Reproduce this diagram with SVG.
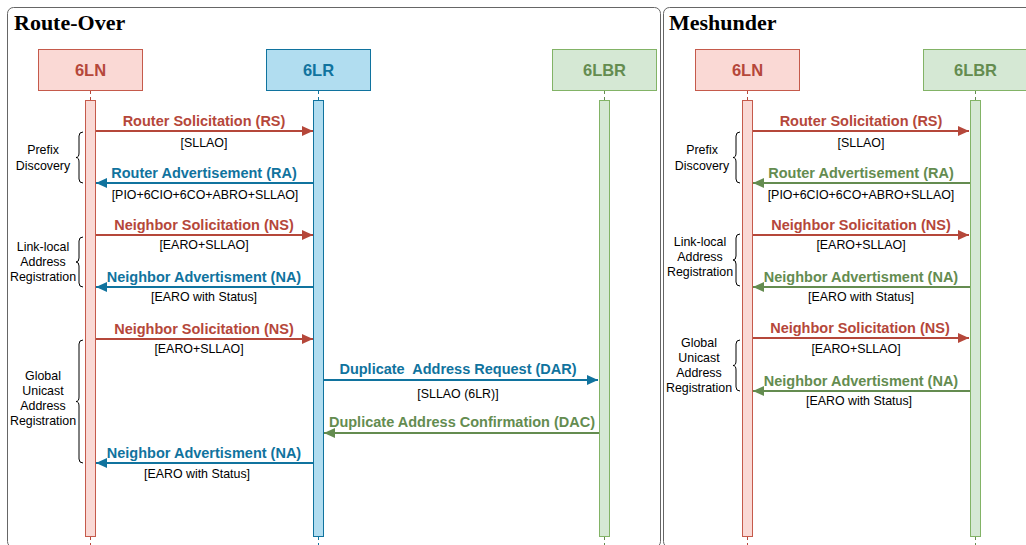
<svg xmlns="http://www.w3.org/2000/svg" width="1026" height="545" viewBox="0 0 1026 545">
<style>
.panel{fill:#fff;stroke:#666;stroke-width:1}
.title{font-family:"Liberation Serif",serif;font-weight:bold;font-size:22px;fill:#000}
.lbl{font-family:"Liberation Sans",Arial,sans-serif;font-weight:bold;font-size:16.5px;text-anchor:middle}
.msg{font-family:"Liberation Sans",Arial,sans-serif;font-weight:bold;font-size:14.5px;text-anchor:middle}
.sub{font-family:"Liberation Sans",Arial,sans-serif;font-size:12.4px;text-anchor:middle;fill:#000}
.note{font-family:"Liberation Sans",Arial,sans-serif;font-size:12.4px;text-anchor:middle;fill:#000}
.brace{fill:none;stroke:#000;stroke-width:1}
.red{fill:#b5473a}.blue{fill:#10739e}.green{fill:#648c50}
.lr{stroke:#b5473a}.lb{stroke:#10739e}.lg{stroke:#648c50}
.ln{fill:#fad9d5;stroke:#c55a4b}
.lrn{fill:#b1ddf0;stroke:#10739e}
.lbr{fill:#d5e8d4;stroke:#82b366}
.dash{stroke-dasharray:3 3;stroke-width:1}
.arr{stroke-width:1.8;fill:none}
</style>
<defs>
<marker id="mr" markerUnits="userSpaceOnUse" markerWidth="12" markerHeight="12" refX="11" refY="6" orient="auto"><path d="M0,1 L11,6 L0,11 Z" fill="#b5473a"/></marker>
<marker id="mb" markerUnits="userSpaceOnUse" markerWidth="12" markerHeight="12" refX="11" refY="6" orient="auto"><path d="M0,1 L11,6 L0,11 Z" fill="#10739e"/></marker>
<marker id="mg" markerUnits="userSpaceOnUse" markerWidth="12" markerHeight="12" refX="11" refY="6" orient="auto"><path d="M0,1 L11,6 L0,11 Z" fill="#648c50"/></marker>
</defs>
<rect width="1026" height="545" fill="#fff"/>

<g id="panel-route-over">
<rect class="panel" x="7.5" y="7.5" width="653" height="540" rx="6"/>
<text class="title" x="14" y="30">Route-Over</text>
</g>
<g id="panel-meshunder">
<rect class="panel" x="663.5" y="7.5" width="380" height="540" rx="6"/>
<text class="title" x="669" y="30">Meshunder</text>
</g>

<g id="ro-6LN">
<rect class="ln" x="38.5" y="49.5" width="104" height="41"/>
<text class="lbl red" x="90.5" y="76">6LN</text>
<line class="dash lr" x1="90.5" y1="91" x2="90.5" y2="100"/>
<rect class="ln" x="85.5" y="100.5" width="10" height="436"/>
<line class="dash lr" x1="90.5" y1="537" x2="90.5" y2="545"/>
</g>
<g id="ro-6LR">
<rect class="lrn" x="266.5" y="49.5" width="104" height="41"/>
<text class="lbl blue" x="318.5" y="76">6LR</text>
<line class="dash lb" x1="318.5" y1="91" x2="318.5" y2="100"/>
<rect class="lrn" x="313.5" y="100.5" width="10" height="436"/>
<line class="dash lb" x1="318.5" y1="537" x2="318.5" y2="545"/>
</g>
<g id="ro-6LBR">
<rect class="lbr" x="552.5" y="49.5" width="104" height="41"/>
<text class="lbl green" x="604.5" y="76">6LBR</text>
<line class="dash lg" x1="604.5" y1="91" x2="604.5" y2="100"/>
<rect class="lbr" x="599.5" y="100.5" width="10" height="436"/>
<line class="dash lg" x1="604.5" y1="537" x2="604.5" y2="545"/>
</g>

<g id="mu-6LN">
<rect class="ln" x="695.5" y="49.5" width="104" height="41"/>
<text class="lbl red" x="747.5" y="76">6LN</text>
<line class="dash lr" x1="747.5" y1="91" x2="747.5" y2="100"/>
<rect class="ln" x="742.5" y="100.5" width="10" height="436"/>
<line class="dash lr" x1="747.5" y1="537" x2="747.5" y2="545"/>
</g>
<g id="mu-6LBR">
<rect class="lbr" x="923.5" y="49.5" width="104" height="41"/>
<text class="lbl green" x="975.5" y="76">6LBR</text>
<line class="dash lg" x1="975.5" y1="91" x2="975.5" y2="100"/>
<rect class="lbr" x="970.5" y="100.5" width="10" height="436"/>
<line class="dash lg" x1="975.5" y1="537" x2="975.5" y2="545"/>
</g>

<g id="ro-notes">
<path class="brace" d="M83,132 Q79,132 79,136 L79,153 Q79,157.5 76,157.5 Q79,157.5 79,162 L79,179 Q79,183 83,183"/>
<text class="note" x="43" y="154">Prefix</text>
<text class="note" x="43" y="170">Discovery</text>
<path class="brace" d="M83,237 Q79,237 79,241 L79,258 Q79,262 76,262 Q79,262 79,266 L79,283 Q79,287 83,287"/>
<text class="note" x="43" y="251">Link-local</text>
<text class="note" x="43" y="266">Address</text>
<text class="note" x="43" y="281">Registration</text>
<path class="brace" d="M83,340 Q79,340 79,344 L79,397 Q79,401.5 76,401.5 Q79,401.5 79,406 L79,459 Q79,463 83,463"/>
<text class="note" x="43" y="380">Global</text>
<text class="note" x="43" y="395">Unicast</text>
<text class="note" x="43" y="410">Address</text>
<text class="note" x="43" y="425">Registration</text>
</g>
<g id="mu-notes">
<path class="brace" d="M740,132 Q736,132 736,136 L736,153 Q736,157.5 733,157.5 Q736,157.5 736,162 L736,179 Q736,183 740,183"/>
<text class="note" x="702" y="154">Prefix</text>
<text class="note" x="702" y="170">Discovery</text>
<path class="brace" d="M740,234 Q736,234 736,238 L736,256 Q736,260 733,260 Q736,260 736,264 L736,282 Q736,286 740,286"/>
<text class="note" x="700" y="246">Link-local</text>
<text class="note" x="700" y="261">Address</text>
<text class="note" x="700" y="276">Registration</text>
<path class="brace" d="M740,340 Q736,340 736,344 L736,361 Q736,365.5 733,365.5 Q736,365.5 736,370 L736,387 Q736,391 740,391"/>
<text class="note" x="699" y="347">Global</text>
<text class="note" x="699" y="362">Unicast</text>
<text class="note" x="699" y="377">Address</text>
<text class="note" x="699" y="392">Registration</text>
</g>

<g id="connectors">
<line class="arr lr" x1="96" y1="131" x2="313" y2="131" marker-end="url(#mr)"/>
<line class="arr lb" x1="313" y1="183" x2="96" y2="183" marker-end="url(#mb)"/>
<line class="arr lr" x1="96" y1="235" x2="313" y2="235" marker-end="url(#mr)"/>
<line class="arr lb" x1="313" y1="287" x2="96" y2="287" marker-end="url(#mb)"/>
<line class="arr lr" x1="96" y1="339" x2="313" y2="339" marker-end="url(#mr)"/>
<line class="arr lb" x1="324" y1="380" x2="598" y2="380" marker-end="url(#mb)"/>
<line class="arr lg" x1="599" y1="433" x2="324" y2="433" marker-end="url(#mg)"/>
<line class="arr lb" x1="313" y1="463" x2="96" y2="463" marker-end="url(#mb)"/>

<line class="arr lr" x1="753" y1="131" x2="969" y2="131" marker-end="url(#mr)"/>
<line class="arr lg" x1="970" y1="183" x2="753" y2="183" marker-end="url(#mg)"/>
<line class="arr lr" x1="753" y1="235" x2="969" y2="235" marker-end="url(#mr)"/>
<line class="arr lg" x1="970" y1="287" x2="753" y2="287" marker-end="url(#mg)"/>
<line class="arr lr" x1="753" y1="338" x2="969" y2="338" marker-end="url(#mr)"/>
<line class="arr lg" x1="970" y1="391" x2="753" y2="391" marker-end="url(#mg)"/>
</g>

<g id="labels">
<text class="msg red" x="204" y="126">Router Solicitation (RS)</text>
<text class="sub" x="204" y="147">[SLLAO]</text>
<text class="msg blue" x="204" y="178">Router Advertisement (RA)</text>
<text class="sub" x="205" y="199">[PIO+6CIO+6CO+ABRO+SLLAO]</text>
<text class="msg red" x="204" y="230">Neighbor Solicitation (NS)</text>
<text class="sub" x="204" y="249">[EARO+SLLAO]</text>
<text class="msg blue" x="204" y="282">Neighbor Advertisment (NA)</text>
<text class="sub" x="204" y="301">[EARO with Status]</text>
<text class="msg red" x="204" y="334">Neighbor Solicitation (NS)</text>
<text class="sub" x="199" y="353">[EARO+SLLAO]</text>
<text class="msg blue" x="458" y="374" xml:space="preserve">Duplicate  Address Request (DAR)</text>
<text class="sub" x="458" y="398">[SLLAO (6LR)]</text>
<text class="msg green" x="462" y="427">Duplicate Address Confirmation (DAC)</text>
<text class="msg blue" x="204" y="458">Neighbor Advertisment (NA)</text>
<text class="sub" x="197" y="478">[EARO with Status]</text>

<text class="msg red" x="861" y="126">Router Solicitation (RS)</text>
<text class="sub" x="861" y="147">[SLLAO]</text>
<text class="msg green" x="861" y="178">Router Advertisement (RA)</text>
<text class="sub" x="861" y="199">[PIO+6CIO+6CO+ABRO+SLLAO]</text>
<text class="msg red" x="861" y="230">Neighbor Solicitation (NS)</text>
<text class="sub" x="861" y="249">[EARO+SLLAO]</text>
<text class="msg green" x="861" y="282">Neighbor Advertisment (NA)</text>
<text class="sub" x="861" y="301">[EARO with Status]</text>
<text class="msg red" x="860" y="333">Neighbor Solicitation (NS)</text>
<text class="sub" x="856" y="353">[EARO+SLLAO]</text>
<text class="msg green" x="861" y="386">Neighbor Advertisment (NA)</text>
<text class="sub" x="859" y="405">[EARO with Status]</text>
</g>
</svg>
